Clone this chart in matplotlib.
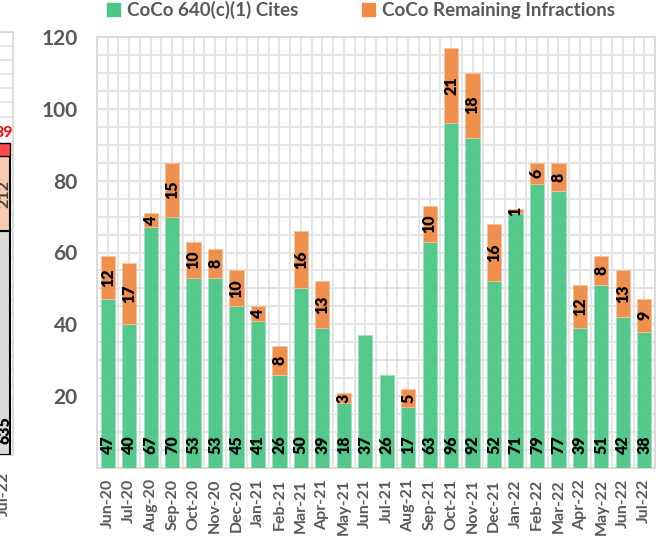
import matplotlib
matplotlib.use("Agg")
from matplotlib import pyplot as plt
from matplotlib.patches import Patch
import numpy as np

plt.rcParams['font.family'] = ['Lato', 'DejaVu Sans']
plt.rcParams['font.weight'] = 'bold'

meses = ['Jun-20', 'Jul-20', 'Aug-20', 'Sep-20', 'Oct-20', 'Nov-20', 'Dec-20',
         'Jan-21', 'Feb-21', 'Mar-21', 'Apr-21', 'May-21', 'Jun-21', 'Jul-21',
         'Aug-21', 'Sep-21', 'Oct-21', 'Nov-21', 'Dec-21', 'Jan-22', 'Feb-22',
         'Mar-22', 'Apr-22', 'May-22', 'Jun-22', 'Jul-22']
cites_640 = [47, 40, 67, 70, 53, 53, 45, 41, 26, 50, 39, 18, 37, 26, 17,
             63, 96, 92, 52, 71, 79, 77, 39, 51, 42, 38]
restantes = [12, 17, 4, 15, 10, 8, 10, 4, 8, 16, 13, 3, -0.4, -0.4, 5,
             10, 21, 18, 16, 1, 6, 8, 12, 8, 13, 9]

# columna del grafico vecino (solo asoma por la izquierda)
vecino_mes = ['Jul-22']
vecino_base = [635]
vecino_medio = [212]
vecino_top = [39]

VERDE = '#4CC685'
NARANJA = '#F08A45'
GRIS_TXT = '#595959'
GRIS_GRID = '#E3E3E3'

W, H = 667, 537
fig = plt.figure(figsize=(W / 100, H / 100), dpi=100)

# ---------------- grafico principal ----------------
ax = fig.add_axes([97 / W, 1 - 468 / H, 558 / W, 431 / H])
x = np.arange(len(meses))
ancho = 0.66

ax.bar(x, cites_640, ancho, color=VERDE, alpha=0.95, zorder=3,
       edgecolor='#9be0bb', linewidth=0.6)
base_naranja = [c if r > 0 else 0 for c, r in zip(cites_640, restantes)]
ax.bar(x, restantes, ancho, bottom=base_naranja, color=NARANJA, alpha=0.95,
       zorder=3, edgecolor='#f6c39e', linewidth=0.6)

for i, (c, r) in enumerate(zip(cites_640, restantes)):
    ax.annotate(str(c), (i, 0), xytext=(0, 14), textcoords='offset pixels',
                rotation=90, ha='center', va='bottom', fontsize=11.5,
                fontweight='heavy', color='black', zorder=5)
    if r > 0:
        ax.text(i, c + r / 2, str(r), rotation=90, ha='center', va='center',
                fontsize=11.5, fontweight='heavy', color='black', zorder=5)

ax.set_xlim(-0.5, len(meses) - 0.5)
ax.set_ylim(0, 120)
ax.set_yticks([20, 40, 60, 80, 100, 120])
ax.set_yticks(np.arange(0, 121, 5), minor=True)
ax.set_xticks(x)
ax.set_xticklabels(meses, rotation=90, fontsize=11.5, fontweight='bold',
                   color=GRIS_TXT)
ax.set_xticks(np.arange(-0.5, len(meses), 1), minor=True)
ax.tick_params(axis='y', labelsize=15, labelcolor=GRIS_TXT, pad=14,
               length=0, which='both')
ax.tick_params(axis='x', length=0, pad=8, which='both')
for lbl in ax.get_yticklabels():
    lbl.set_fontweight('bold')
ax.grid(True, which='both', color=GRIS_GRID, linewidth=1.3, zorder=0)
ax.set_axisbelow(True)
for s in ax.spines.values():
    s.set_color('#D9D9D9')
    s.set_linewidth(1.3)

fig.legend(handles=[Patch(color=VERDE, label='CoCo 640(c)(1) Cites'),
                    Patch(color=NARANJA, label='CoCo Remaining Infractions')],
           loc='center', bbox_to_anchor=(361 / W, 1 - 10 / H), ncol=2,
           frameon=False, handlelength=0.7, handleheight=0.7,
           handletextpad=0.35, columnspacing=3.4,
           prop={'weight': 'bold', 'size': 13.5})
for t in fig.legends[0].get_texts():
    t.set_color(GRIS_TXT)

# ---------------- grafico vecino recortado ----------------
ax2 = fig.add_axes([-40 / W, 1 - 455 / H, 53 / W, 423 / H])
ax2.set_xlim(0, 53)
ax2.set_ylim(0, 1200)
cx = 44
ax2.bar([cx], vecino_base, 12, color='#DADADA', edgecolor='black',
        linewidth=1.5, zorder=3)
ax2.bar([cx], vecino_medio, 12, bottom=vecino_base, color='#F8CBAD',
        edgecolor='black', linewidth=1.5, zorder=3)
ax2.bar([cx], vecino_top, 12,
        bottom=[a + b for a, b in zip(vecino_base, vecino_medio)],
        color='#FF4B4B', edgecolor='black', linewidth=1.0, zorder=3)
ax2.text(cx, 30, str(vecino_base[0]), rotation=90, ha='center', va='bottom',
         fontsize=11.5, fontweight='heavy', color='black', zorder=5)
ax2.text(cx, vecino_base[0] + vecino_medio[0] / 2, str(vecino_medio[0]),
         rotation=90, ha='center', va='center', fontsize=11.5,
         fontweight='bold', color='#404040', zorder=5)
ax2.text(cx, vecino_base[0] + vecino_medio[0] + vecino_top[0] + 8,
         str(vecino_top[0]), ha='center', va='bottom', fontsize=11.5,
         fontweight='bold', color='#FF0000', zorder=5)
ax2.set_yticks(np.arange(0, 1201, 40))
ax2.set_yticklabels([])
ax2.set_xticks([cx])
ax2.set_xticklabels(vecino_mes, rotation=90, fontsize=11.5, fontweight='bold',
                    color=GRIS_TXT)
ax2.tick_params(length=0, pad=12)
ax2.grid(True, axis='y', color=GRIS_GRID, linewidth=1.3, zorder=0)
ax2.set_axisbelow(True)
for s in ax2.spines.values():
    s.set_color('#D9D9D9')
    s.set_linewidth(1.3)

fig.savefig('out.png', dpi=100)
